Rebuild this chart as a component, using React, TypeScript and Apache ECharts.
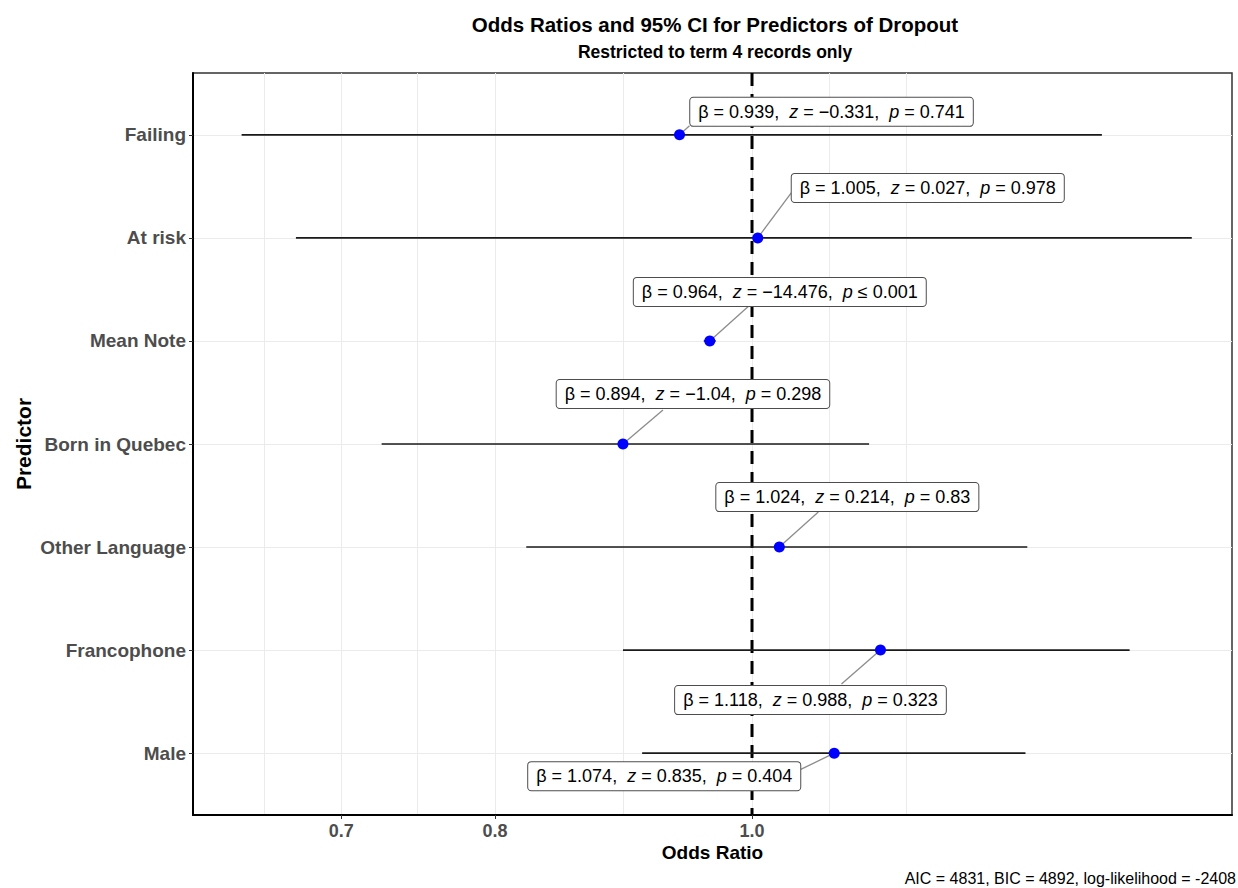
import React, { useEffect, useRef } from "react";
import * as echarts from "echarts";

// ---------------- data ----------------
const predictors = [
  "Failing",
  "At risk",
  "Mean Note",
  "Born in Quebec",
  "Other Language",
  "Francophone",
  "Male",
];
const oddsRatios = [0.939, 1.005, 0.964, 0.894, 1.024, 1.118, 1.074];
const ciLower = [0.642, 0.673, 0.959, 0.725, 0.822, 0.894, 0.909];
const ciUpper = [1.355, 1.465, 0.969, 1.107, 1.27, 1.388, 1.268];
const zValues = [-0.331, 0.027, -14.476, -1.04, 0.214, 0.988, 0.835];
const pValues = [0.741, 0.978, 0.001, 0.298, 0.83, 0.323, 0.404];
const xTickValues = [0.7, 0.8, 1.0];
const xGridValues = [0.655, 0.7, 0.748, 0.8, 0.894, 1.0, 1.069, 1.143];
const referenceOR = 1.0;
const titleText = "Odds Ratios and 95% CI for Predictors of Dropout";
const subtitleText = "Restricted to term 4 records only";
const footnoteText = "AIC = 4831, BIC = 4892, log-likelihood = -2408";

// ---------------- layout ----------------
// label box centre offsets (px) from each point (repelled labels)
const labelOffsets = [
  [152, -23],
  [170, -50],
  [70, -49],
  [70, -50],
  [68, -50],
  [-70, 50],
  [-170, 23],
];
// where each connector segment meets its label box, offset (px) from the point
const segmentEnds = [
  [10, -9],
  [35, -47],
  [39, -35],
  [40, -34],
  [39, -35],
  [-39, 34],
  [-35, 17],
];
const X_MIN = -0.2108; // log10 odds ratio at panel left
const X_MAX = 0.181; // log10 odds ratio at panel right
const Y_MIN = 0.4;
const Y_MAX = 7.6;
const FONT = "'Liberation Sans', Arial, Helvetica, sans-serif";

const log10 = (v: number) => Math.log10(v);
const fmt = (v: number) => (v < 0 ? "\u2212" : "") + String(Math.abs(v));

const labelTexts = oddsRatios.map((b, i) => {
  const p = pValues[i];
  const pPart = p <= 0.001 ? "\u2264 0.001" : "= " + fmt(p);
  return `\u03B2 = ${fmt(b)},  {i|z} = ${fmt(zValues[i])},  {i|p} ${pPart}`;
});

export default function App() {
  const ref = useRef<HTMLDivElement>(null);

  useEffect(() => {
    if (!ref.current) return;
    const chart = echarts.init(ref.current, null, { renderer: "svg" });

    const mainData = oddsRatios.map((b, i) => [
      log10(b),
      i + 1,
      log10(ciLower[i]),
      log10(ciUpper[i]),
    ]);

    const option: any = {
      animation: false,
      backgroundColor: "#ffffff",
      grid: {
        left: 193,
        right: 6,
        top: 73,
        bottom: 73,
        show: true,
        borderColor: "#333333",
        borderWidth: 1.5,
      },
      xAxis: [
        {
          type: "value",
          min: X_MIN,
          max: X_MAX,
          position: "bottom",
          axisLine: { show: true, onZero: false, lineStyle: { color: "#000", width: 2 } },
          axisTick: {
            show: true,
            customValues: xTickValues.map(log10),
            length: 4,
            lineStyle: { color: "#333", width: 1 },
          },
          axisLabel: {
            customValues: xTickValues.map(log10),
            formatter: (v: number) => Math.pow(10, v).toFixed(1),
            fontSize: 18,
            fontWeight: "bold",
            color: "#4d4d4d",
            fontFamily: FONT,
            margin: 7,
          },
          splitLine: { show: false },
          name: "Odds Ratio",
          nameLocation: "middle",
          nameGap: 28,
          nameMoveOverlap: false,
          nameTextStyle: { fontSize: 19, fontWeight: "bold", color: "#000", fontFamily: FONT },
        },
        {
          type: "value",
          min: X_MIN,
          max: X_MAX,
          position: "bottom",
          axisLine: { show: false },
          axisTick: { show: false, customValues: xGridValues.map(log10) },
          axisLabel: { show: false },
          splitLine: { show: true, lineStyle: { color: "#ebebeb", width: 1 } },
        },
      ],
      yAxis: {
        type: "value",
        min: Y_MIN,
        max: Y_MAX,
        inverse: true,
        axisLine: { show: true, onZero: false, lineStyle: { color: "#000", width: 2 } },
        axisTick: {
          show: true,
          customValues: predictors.map((_, i) => i + 1),
          length: 4,
          lineStyle: { color: "#333", width: 1 },
        },
        axisLabel: {
          customValues: predictors.map((_, i) => i + 1),
          formatter: (v: number) => predictors[Math.round(v) - 1] || "",
          fontSize: 19,
          fontWeight: "bold",
          color: "#4d4d4d",
          fontFamily: FONT,
          margin: 7,
        },
        splitLine: { show: true, lineStyle: { color: "#ebebeb", width: 1 } },
        name: "Predictor",
        nameLocation: "middle",
        nameGap: 159,
        nameMoveOverlap: false,
        nameTextStyle: { fontSize: 21, fontWeight: "bold", color: "#000", fontFamily: FONT },
      },
      graphic: [
        {
          type: "text",
          x: 715,
          y: 24,
          style: {
            text: titleText,
            align: "center",
            verticalAlign: "middle",
            fontSize: 20.5,
            fontWeight: "bold",
            fontFamily: FONT,
            fill: "#000",
          },
        },
        {
          type: "text",
          x: 715,
          y: 52,
          style: {
            text: subtitleText,
            align: "center",
            verticalAlign: "middle",
            fontSize: 17.5,
            fontWeight: "bold",
            fontFamily: FONT,
            fill: "#000",
          },
        },
        {
          type: "text",
          x: 1236,
          y: 878,
          style: {
            text: footnoteText,
            align: "right",
            verticalAlign: "middle",
            fontSize: 16,
            fontFamily: FONT,
            fill: "#000",
          },
        },
      ],
      series: [
        {
          type: "custom",
          name: "reference",
          xAxisIndex: 0,
          yAxisIndex: 0,
          data: [[log10(referenceOR), (Y_MIN + Y_MAX) / 2]],
          encode: { x: 0, y: 1 },
          silent: true,
          renderItem: (params: any, api: any) => {
            const a = api.coord([api.value(0), Y_MIN]);
            const b = api.coord([api.value(0), Y_MAX]);
            return {
              type: "line",
              shape: { x1: a[0], y1: a[1], x2: b[0], y2: b[1] },
              style: { stroke: "#000", lineWidth: 3, lineDash: [13, 8] },
            };
          },
        },
        {
          type: "custom",
          name: "odds",
          xAxisIndex: 0,
          yAxisIndex: 0,
          data: mainData,
          encode: { x: [0, 2, 3], y: 1 },
          clip: false,
          renderItem: (params: any, api: any) => {
            const i = params.dataIndex;
            const y = api.value(1);
            const p = api.coord([api.value(0), y]);
            const lo = api.coord([api.value(2), y]);
            const hi = api.coord([api.value(3), y]);
            const [dx, dy] = labelOffsets[i];
            const [sx, sy] = segmentEnds[i];
            const c = [p[0] + dx, p[1] + dy];
            return {
              type: "group",
              children: [
                {
                  type: "line",
                  z2: 1,
                  shape: { x1: lo[0], y1: lo[1], x2: hi[0], y2: hi[1] },
                  style: { stroke: "#1a1a1a", lineWidth: 1.6 },
                },
                {
                  type: "line",
                  z2: 2,
                  shape: { x1: p[0], y1: p[1], x2: p[0] + sx, y2: p[1] + sy },
                  style: { stroke: "#8c8c8c", lineWidth: 1.3 },
                },
                {
                  type: "circle",
                  z2: 3,
                  shape: { cx: p[0], cy: p[1], r: 5.5 },
                  style: { fill: "#0000ff" },
                },
                {
                  type: "text",
                  z2: 4,
                  x: c[0],
                  y: c[1],
                  style: {
                    text: labelTexts[i],
                    align: "center",
                    verticalAlign: "middle",
                    fontSize: 18,
                    fontFamily: FONT,
                    fill: "#000",
                    backgroundColor: "#ffffff",
                    borderColor: "#4d4d4d",
                    borderWidth: 1,
                    borderRadius: 3,
                    padding: [5, 8],
                    rich: {
                      i: {
                        fontSize: 18,
                        fontFamily: FONT,
                        fontStyle: "italic",
                        fill: "#000",
                      },
                    },
                  },
                },
              ],
            };
          },
        },
      ],
    };

    chart.setOption(option);
    return () => {
      chart.dispose();
    };
  }, []);

  return (
    <div
      ref={ref}
      style={{ position: "fixed", left: 0, top: 0, width: 1238, height: 888, background: "#fff" }}
    />
  );
}
